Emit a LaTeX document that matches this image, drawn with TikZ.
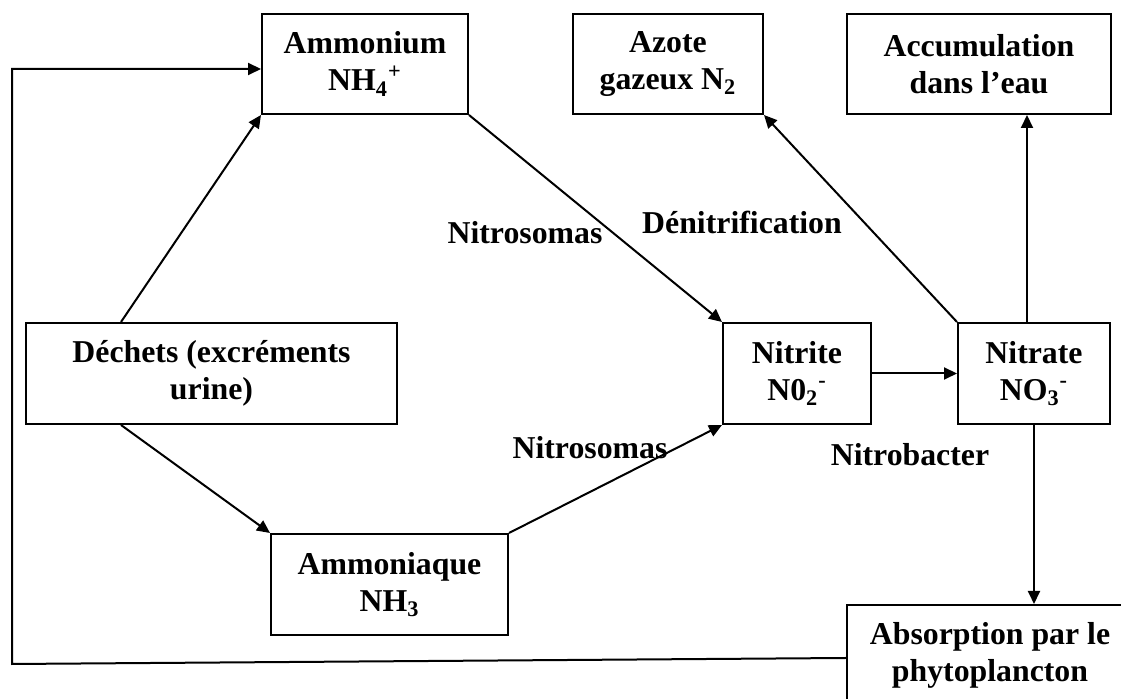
\documentclass[tikz,border=0pt]{standalone}
\usepackage{fontspec}
\setmainfont{Liberation Serif}
\usetikzlibrary{arrows.meta}
\tikzset{
	box/.style={draw, line width=1pt, align=center, inner sep=0pt,
			minimum height=50pt, font=\fontsize{15.9}{18.5}\selectfont\bfseries},
	lbl/.style={inner sep=0pt, font=\fontsize{15.9}{18.5}\selectfont\bfseries}
}

\begin{document}
\begin{tikzpicture}[x=0.5pt,y=-0.5pt,>={Triangle[length=6.5pt,width=6pt]},line width=1pt]
	\useasboundingbox (0,0) rectangle (1121,699);
	\clip (0,0) rectangle (1121,699);

	% boxes
	\node[box,minimum width=103pt] (amm) at (365,64) {Ammonium\\NH\textsubscript{4}\textsuperscript{+}};
	\node[box,minimum width=95pt] (azote) at (668,64) {Azote\\gazeux N\textsubscript{2}};
	\node[box,minimum width=132pt] (accu) at (979,64) {Accumulation\\dans l’eau};
	\node[box,minimum width=185.5pt,minimum height=50.5pt] (dechets) at (211.5,373.5) {Déchets (excréments\\urine)};
	\node[box,minimum width=74pt,minimum height=50.5pt] (nitrite) at (797,373.5) {Nitrite\\N0\textsubscript{2}\textsuperscript{-}};
	\node[box,minimum width=76pt,minimum height=50.5pt] (nitrate) at (1034,373.5) {Nitrate\\NO\textsubscript{3}\textsuperscript{-}};
	\node[box,minimum width=118.5pt,minimum height=50.5pt] (ammq) at (389.5,584.5) {Ammoniaque\\NH\textsubscript{3}};
	\node[box,minimum width=143pt] (absorp) at (990,655) {Absorption par le\\phytoplancton};

	% arrows
	\draw[->] ([xshift=48pt]dechets.north west) -- (amm.south west);
	\draw[->] ([xshift=48pt]dechets.south west) -- (ammq.north west);
	\draw[->] (amm.south east) -- (nitrite.north west);
	\draw[->] (ammq.north east) -- (nitrite.south west);
	\draw[->] (nitrite.east) -- (nitrate.west);
	\draw[->] (nitrate.north west) -- (azote.south east);
	\draw[->] ([xshift=-3.5pt]nitrate.north) -- ([xshift=-3.5pt]nitrate.north |- accu.south);
	\draw[->] (nitrate.south) -- (nitrate.south |- absorp.north);

	% back to ammonium
	\coordinate (fb) at (12,664);
	\draw[->] ([yshift=-1.5pt]absorp.west) -- (fb) |- ([yshift=-2.5pt]amm.west);

	% bacteria
	\node[lbl] (nsup) at (525,233) {Nitrosomas};
	\node[lbl] (nsdown) at (590,448) {Nitrosomas};
	\node[lbl] (denit) at (742,222) {Dénitrification};
	\node[lbl] (nbact) at (910,455) {Nitrobacter};
\end{tikzpicture}
\end{document}
